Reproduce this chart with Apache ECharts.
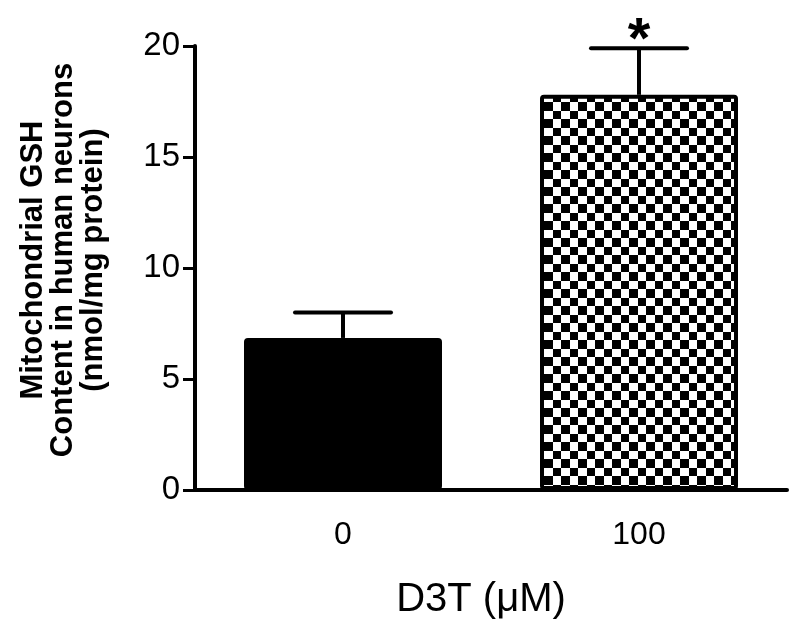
<!DOCTYPE html>
<html>
<head>
<meta charset="utf-8">
<script src="https://cdn.jsdelivr.net/npm/echarts@6/dist/echarts.min.js"></script>
<style>html,body{margin:0;padding:0;background:#fff}#c{width:800px;height:636px}</style>
</head>
<body>
<div id="c"></div>
<script>
var categories = ['0', '100'];
var means = [6.85, 17.8];
var errUpper = [8.0, 19.9];
var significance = ['', '*'];
var yTicks = [0, 5, 10, 15, 20];

var FONT = '"Liberation Sans", Arial, Helvetica, sans-serif';

// checkerboard pattern
var pc = document.createElement('canvas');
pc.width = 17; pc.height = 17;
var pctx = pc.getContext('2d');
pctx.fillStyle = '#fff'; pctx.fillRect(0, 0, 17, 17);
pctx.fillStyle = '#000';
pctx.fillRect(0, 0, 9, 9);
pctx.fillRect(9, 9, 8, 8);

var chart = echarts.init(document.getElementById('c'), null, {renderer: 'canvas'});

var barData = means.map(function (v, i) {
  return {
    value: v,
    itemStyle: i === 1
      ? {color: {image: pc, repeat: 'repeat'}, borderColor: '#000', borderWidth: 4, borderRadius: 2}
      : {color: '#000', borderColor: '#000', borderWidth: 4, borderRadius: 2}
  };
});

var errData = means.map(function (v, i) { return [i, v, errUpper[i], significance[i]]; });

chart.setOption({
  animation: false,
  backgroundColor: '#fff',
  grid: {left: 195, right: 13, top: 46, bottom: 146},
  xAxis: {
    type: 'category',
    data: categories,
    axisLine: {lineStyle: {color: '#000', width: 4}},
    axisTick: {show: false},
    axisLabel: {color: '#000', fontSize: 32, fontFamily: FONT, margin: 29},
    name: 'D3T (\u03bcM)',
    nameLocation: 'middle',
    nameGap: 90,
    nameTextStyle: {color: '#000', fontSize: 40, fontFamily: FONT, padding: [0, 20, 0, 0]}
  },
  yAxis: {
    type: 'value',
    min: 0, max: 20, interval: 5,
    axisLine: {show: true, lineStyle: {color: '#000', width: 4}},
    axisTick: {show: true, length: 12, lineStyle: {color: '#000', width: 3}},
    axisLabel: {color: '#000', fontSize: 33, fontFamily: FONT, margin: 15,
      formatter: function (v) { return yTicks.indexOf(v) >= 0 ? String(v) : ''; }},
    splitLine: {show: false}
  },
  graphic: [{
    type: 'text',
    x: 63, y: 260,
    rotation: Math.PI / 2,
    style: {
      text: 'Mitochondrial GSH\nContent in human neurons\n(nmol/mg protein)',
      fontSize: 31, fontWeight: 'bold', fontFamily: FONT,
      lineHeight: 30, fill: '#000',
      align: 'center', verticalAlign: 'middle'
    }
  }],
  series: [{
    type: 'bar',
    data: barData,
    barWidth: 198,
    z: 2
  }, {
    type: 'custom',
    data: errData,
    z: 3,
    renderItem: function (params, api) {
      var x = api.value(0);
      var p0 = api.coord([x, api.value(1)]);
      var p1 = api.coord([x, api.value(2)]);
      var sig = significance[params.dataIndex];
      var children = [{
        type: 'line',
        shape: {x1: p0[0], y1: p0[1], x2: p1[0], y2: p1[1]},
        style: {stroke: '#000', lineWidth: 4}
      }, {
        type: 'line',
        shape: {x1: p1[0] - 48, y1: p1[1], x2: p1[0] + 48, y2: p1[1]},
        style: {stroke: '#000', lineWidth: 4, lineCap: 'round'}
      }];
      if (sig) {
        children.push({
          type: 'text',
          x: p1[0], y: p1[1] + 23,
          style: {text: sig, fontSize: 58, fontWeight: 'bold', fontFamily: FONT,
            fill: '#000', align: 'center', verticalAlign: 'bottom'}
        });
      }
      return {type: 'group', children: children};
    }
  }]
});
</script>
</body>
</html>
